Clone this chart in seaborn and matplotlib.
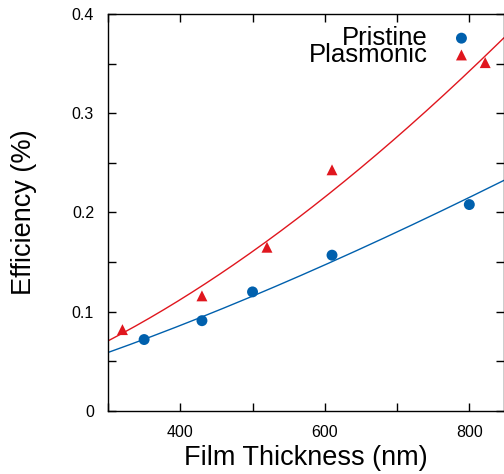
import numpy as np
import pandas as pd
import matplotlib
matplotlib.use('Agg')
import matplotlib.pyplot as plt
import seaborn as sns
from matplotlib.ticker import MultipleLocator, FuncFormatter

# 데이터
pristine_x = [350, 430, 500, 610, 800]
pristine_y = [0.072, 0.091, 0.120, 0.157, 0.208]
plasmonic_x = [320, 430, 520, 610, 822]
plasmonic_y = [0.082, 0.116, 0.165, 0.243, 0.351]

blue = '#0060ad'
red = '#e0161e'

sns.set_style('ticks')
plt.rcParams['font.family'] = ['Liberation Sans', 'DejaVu Sans']
plt.rcParams['text.color'] = 'black'
plt.rcParams['axes.labelcolor'] = 'black'
plt.rcParams['xtick.color'] = 'black'
plt.rcParams['ytick.color'] = 'black'
plt.rcParams['axes.edgecolor'] = 'black'

fig = plt.figure(figsize=(5.04, 4.74), dpi=100)
ax = fig.add_axes([108 / 504, 1 - 411 / 474, 396 / 504, 397 / 474])

# 거듭제곱 피팅 곡선 (log-log 선형 피팅)
xs = np.linspace(300, 848, 200)
fits = []
for name, x, y in [('Pristine', pristine_x, pristine_y),
                   ('Plasmonic', plasmonic_x, plasmonic_y)]:
    b, a = np.polyfit(np.log(x), np.log(y), 1)
    fits.append(pd.DataFrame({'x': xs, 'y': np.exp(a) * xs ** b, 'c': name}))
fit_df = pd.concat(fits)
sns.lineplot(data=fit_df, x='x', y='y', hue='c', palette={'Pristine': blue, 'Plasmonic': red},
             linewidth=1.0, legend=False, ax=ax)

sns.scatterplot(x=pristine_x, y=pristine_y, color=blue, marker='o', s=62,
                edgecolor='none', label='Pristine', ax=ax, clip_on=False)
sns.scatterplot(x=plasmonic_x, y=plasmonic_y, color=red, marker='^', s=62,
                edgecolor='none', label='Plasmonic', ax=ax, clip_on=False)

ax.set_xlim(300, 848)
ax.set_ylim(0, 0.4)
ax.xaxis.set_major_locator(MultipleLocator(200))
ax.xaxis.set_minor_locator(MultipleLocator(100))
ax.yaxis.set_major_locator(MultipleLocator(0.1))
ax.yaxis.set_minor_locator(MultipleLocator(0.05))
ax.yaxis.set_major_formatter(FuncFormatter(lambda v, p: '0' if abs(v) < 1e-9 else f'{v:.1f}'))
ax.tick_params(which='both', direction='in', top=True, right=True, width=1.0, labelsize=11.5)
ax.tick_params(which='major', length=6, pad=10)
ax.tick_params(which='minor', length=6)
for s in ax.spines.values():
    s.set_linewidth(1.0)

ax.set_xlabel('Film Thickness (nm)', fontsize=19.5, labelpad=4)
ax.set_ylabel('Efficiency (%)', fontsize=19.5, labelpad=25)

ax.legend(loc='upper right', bbox_to_anchor=(0.912, 0.97), frameon=False, markerfirst=False,
          fontsize=18.5, labelspacing=-0.28, handletextpad=1.0, handlelength=0.6,
          borderpad=0, borderaxespad=0)

fig.savefig('out.png', dpi=100)
